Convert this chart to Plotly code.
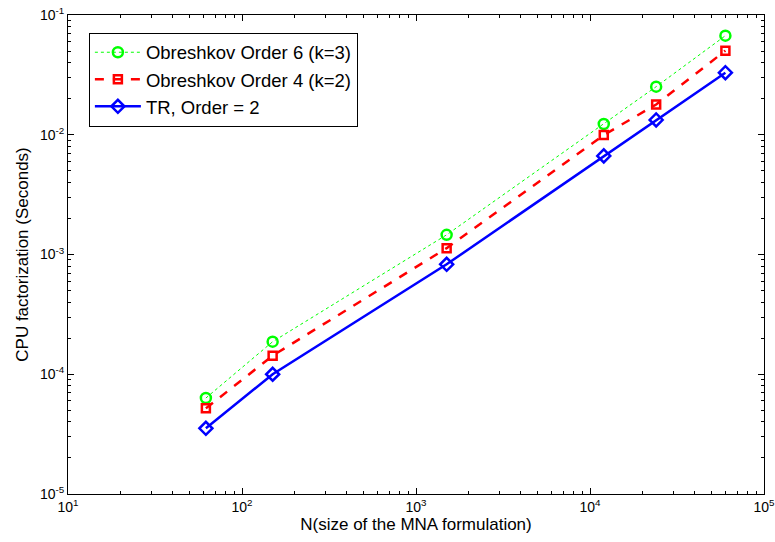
import plotly.graph_objects as go
import numpy as np

# Data
n_size = [62, 150, 1500, 12000, 24000, 60000]
obreshkov6 = [6.33e-5, 1.87e-4, 1.46e-3, 1.23e-2, 2.52e-2, 6.72e-2]
obreshkov4 = [5.19e-5, 1.43e-4, 1.13e-3, 9.95e-3, 1.79e-2, 5.04e-2]
tr_order2 = [3.54e-5, 1.00e-4, 8.28e-4, 6.66e-3, 1.33e-2, 3.30e-2]

x_ticks = [1e1, 1e2, 1e3, 1e4, 1e5]
x_ticktext = ["10<sup>1</sup>", "10<sup>2</sup>", "10<sup>3</sup>", "10<sup>4</sup>", "10<sup>5</sup>"]
y_ticks = [1e-5, 1e-4, 1e-3, 1e-2, 1e-1]
y_ticktext = ["10<sup>-5</sup>", "10<sup>-4</sup>", "10<sup>-3</sup>", "10<sup>-2</sup>", "10<sup>-1</sup>"]

def minor_vals(lo, hi):
    vals = []
    for e in range(lo, hi):
        for m in range(2, 10):
            vals.append(m * 10.0 ** e)
    return vals

FONT = "Liberation Sans, Arial, sans-serif"

fig = go.Figure()
fig.add_trace(go.Scatter(
    x=n_size, y=obreshkov6, mode="lines+markers", name="Obreshkov Order 6 (k=3)",
    line=dict(color="#00FF00", width=1, dash="dot"),
    marker=dict(symbol="circle-open", size=10, color="#00FF00", line=dict(width=2.5, color="#00FF00")),
))
fig.add_trace(go.Scatter(
    x=n_size, y=obreshkov4, mode="lines+markers", name="Obreshkov Order 4 (k=2)",
    line=dict(color="#FF0000", width=2.5, dash="dash"),
    marker=dict(symbol="square-open", size=8, color="#FF0000", line=dict(width=2.5, color="#FF0000")),
))
fig.add_trace(go.Scatter(
    x=n_size, y=tr_order2, mode="lines+markers", name="TR, Order = 2",
    line=dict(color="#0000FF", width=2.5),
    marker=dict(symbol="diamond-open", size=10, color="#0000FF", line=dict(width=2.5, color="#0000FF")),
))

axis_common = dict(
    type="log", showline=True, linecolor="black", linewidth=1, mirror="allticks",
    ticks="inside", ticklen=6, tickcolor="black", tickwidth=1,
    showgrid=False, zeroline=False, tickmode="array", automargin=False,
    ticklabeloverflow="allow",
    tickfont=dict(family=FONT, size=14, color="black"),
)

fig.update_xaxes(
    **axis_common,
    range=[1, 5], tickvals=x_ticks, ticktext=x_ticktext,
    minor=dict(ticks="inside", ticklen=3, tickcolor="black", tickmode="array",
               tickvals=minor_vals(1, 5), showgrid=False),
    title=dict(text="N(size of the MNA formulation)", font=dict(family=FONT, size=17, color="black"), standoff=4),
)
fig.update_yaxes(
    **axis_common,
    range=[-5, -1], tickvals=y_ticks, ticktext=y_ticktext,
    minor=dict(ticks="inside", ticklen=3, tickcolor="black", tickmode="array",
               tickvals=minor_vals(-5, -1), showgrid=False),
    title=dict(text="CPU factorization (Seconds)", font=dict(family=FONT, size=17, color="black"), standoff=6),
)

fig.update_layout(
    width=775, height=542,
    margin=dict(l=68, r=11, t=15, b=48),
    paper_bgcolor="white", plot_bgcolor="white",
    font=dict(family=FONT, color="black"),
    legend=dict(
        x=0.030, y=0.963, xanchor="left", yanchor="top",
        bordercolor="black", borderwidth=1, bgcolor="white",
        font=dict(family=FONT, size=18.5, color="black"),
        tracegroupgap=0, itemwidth=46,
    ),
)

fig.write_html("out.html")
